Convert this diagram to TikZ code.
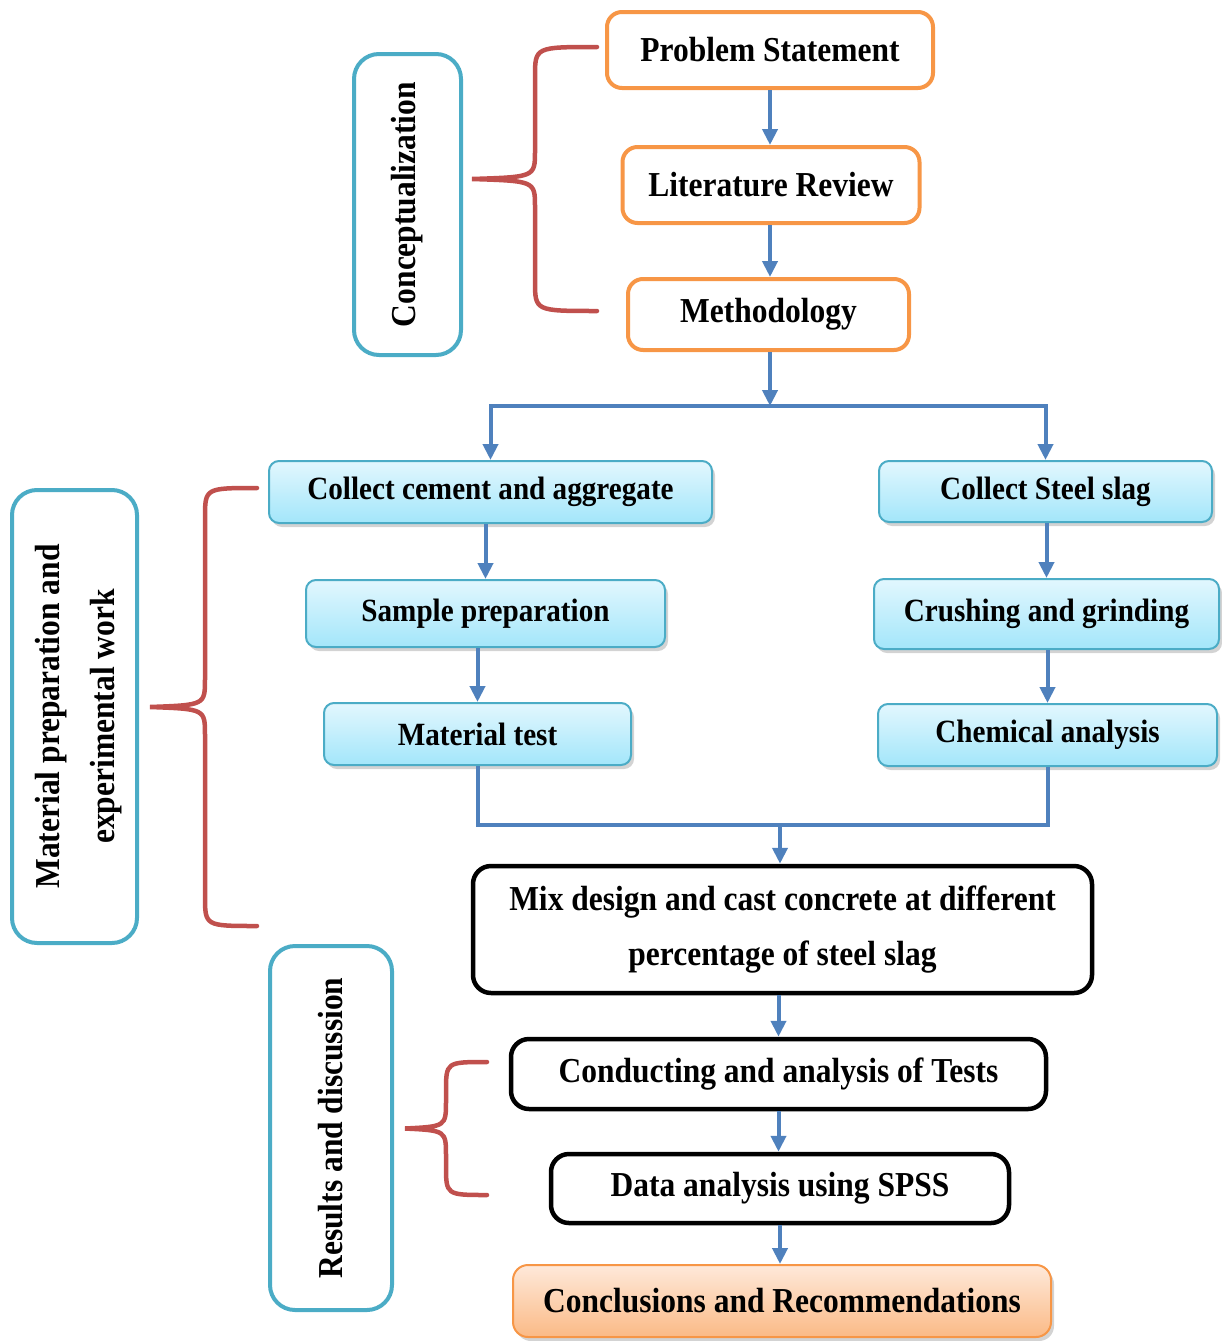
\documentclass[tikz,border=0pt]{standalone}
\usepackage{fontspec}
\setmainfont{Liberation Serif}[FakeStretch=0.9]
\usepackage{xcolor}
\usepackage{tikz}
\usetikzlibrary{arrows.meta,positioning,calc,shadows}

\definecolor{flowblue}{HTML}{4F81BD}
\definecolor{stepor}{HTML}{F79646}
\definecolor{labcyan}{HTML}{4BACC6}
\definecolor{bracered}{HTML}{C0504D}
\definecolor{celltop}{HTML}{E2F7FE}
\definecolor{cellbot}{HTML}{A3E6FA}
\definecolor{peachtop}{HTML}{FEE9DA}
\definecolor{peachbot}{HTML}{FBBA86}

\tikzset{
  orangebox/.style={draw=stepor, line width=4pt, rounded corners=15pt, fill=white,
    font=\fontsize{35}{42}\selectfont\bfseries},
  cellbox/.style={draw=labcyan, line width=2pt, rounded corners=10pt,
    top color=celltop, bottom color=cellbot,
    drop shadow={opacity=0.35, shadow xshift=3pt, shadow yshift=-4pt},
    font=\fontsize{32.4}{39}\selectfont\bfseries},
  blackbox/.style={draw=black, line width=4.5pt, rounded corners=18pt, fill=white,
    font=\fontsize{35}{55}\selectfont\bfseries, align=center},
  endbox/.style={draw=stepor, line width=2pt, rounded corners=15pt,
    top color=peachtop, bottom color=peachbot,
    drop shadow={opacity=0.35, shadow xshift=3pt, shadow yshift=-4pt},
    font=\fontsize{35}{42}\selectfont\bfseries},
  phasebox/.style={draw=labcyan, line width=4pt, rounded corners=25pt, fill=white,
    font=\fontsize{35}{55}\selectfont\bfseries, align=center},
  flow/.style={draw=flowblue, line width=4pt, -{Triangle[width=15pt,length=16pt]}},
  flowline/.style={draw=flowblue, line width=4pt},
  curly/.style={draw=bracered, line width=4.5pt, line cap=round}
}

% brace: arm x, top y, bottom y, spine x, tip x
\newcommand{\curlybrace}[5]{%
  \draw[curly] (#1,#2) .. controls (#4,#2) and (#4,#2) .. (#4,#2+30)
    -- (#4,{(#2+#3)/2-28}) .. controls (#4,{(#2+#3)/2-2}) .. (#5,{(#2+#3)/2})
    .. controls (#4,{(#2+#3)/2+2}) .. (#4,{(#2+#3)/2+28})
    -- (#4,#3-30) .. controls (#4,#3) and (#4,#3) .. (#1,#3);}

\begin{document}
\begin{tikzpicture}[x=1pt,y=-1pt]
  \useasboundingbox (0,0) rectangle (1222,1341);

  % conceptualization
  \node[orangebox, minimum width=326pt, minimum height=76pt] (prob) at (770,50) {Problem Statement};
  \node[orangebox, minimum width=297pt, minimum height=76pt] (lit) at (771,185) {Literature Review};
  \node[orangebox, minimum width=281pt, minimum height=71pt] (meth) at (768.5,314.5) {Methodology};

  % material preparation
  \node[cellbox, minimum width=443pt, minimum height=62pt] (cem) at (490.5,492) {Collect cement and aggregate};
  \node[cellbox, minimum width=359pt, minimum height=67pt] (samp) at (485.5,613.5) {Sample preparation};
  \node[cellbox, minimum width=307pt, minimum height=62pt] (mat) at (477.5,734) {Material test};
  \node[cellbox, minimum width=333pt, minimum height=61pt] (slag) at (1045.5,491.5) {Collect Steel slag};
  \node[cellbox, minimum width=345pt, minimum height=70pt] (crush) at (1046.5,614) {Crushing and grinding};
  \node[cellbox, minimum width=339pt, minimum height=62pt] (chem) at (1047.5,735) {Chemical analysis};

  % results
  \node[blackbox, minimum width=619pt, minimum height=127pt] (mix) at (782.5,929.5)
    {Mix design and cast concrete at different\\percentage of steel slag};
  \node[blackbox, minimum width=535pt, minimum height=70pt] (cond) at (778.5,1074) {Conducting and analysis of Tests};
  \node[blackbox, minimum width=458pt, minimum height=69pt] (spss) at (780,1188.5) {Data analysis using SPSS};
  \node[endbox, minimum width=538pt, minimum height=72pt] (concl) at (782,1301) {Conclusions and Recommendations};

  % phase labels
  \node[phasebox, minimum width=107pt, minimum height=301pt] (concept) at (407.5,204.5) {};
  \node[rotate=90, font=\fontsize{35}{42}\selectfont\bfseries] at (concept) {Conceptualization};
  \node[phasebox, minimum width=125pt, minimum height=453pt] (matprep) at (74.5,716.5) {};
  \node[rotate=90, font=\fontsize{35}{55}\selectfont\bfseries, align=center] at ([xshift=4pt]matprep)
    {Material preparation and\\experimental work};
  \node[phasebox, minimum width=122pt, minimum height=364pt] (results) at (331,1128) {};
  \node[rotate=90, font=\fontsize{35}{42}\selectfont\bfseries] at (results) {Results and discussion};

  % connectors
  \coordinate (split) at (770,406);
  \coordinate (merge) at (780,825);
  \draw[flow] (prob.south) -- (prob.south |- lit.north);
  \draw[flow] (prob.south |- lit.south) -- (prob.south |- meth.north);
  \draw[flow] (split |- meth.south) -- (split);
  \draw[flow] (split) -| (cem.north);
  \draw[flow] (split) -| (slag.north);
  \draw[flow] (samp.north |- cem.south) -- (samp.north);
  \draw[flow] (mat.north |- samp.south) -- (mat.north);
  \draw[flow] (crush.north |- slag.south) -- (crush.north);
  \draw[flow] (chem.north |- crush.south) -- (chem.north);
  \draw[flowline] (mat.south) |- (merge) -| (chem.south);
  \draw[flow] (merge) -- (merge |- mix.north);
  \draw[flow] (cond.north |- mix.south) -- (cond.north);
  \draw[flow] (cond.south) -- (cond.south |- spss.north);
  \draw[flow] (spss.south) -- (spss.south |- concl.north);

  % braces
  \curlybrace{597}{47}{311}{535}{472}
  \curlybrace{257}{488}{926}{205}{150}
  \curlybrace{487}{1062}{1195}{446}{405}
\end{tikzpicture}
\end{document}
